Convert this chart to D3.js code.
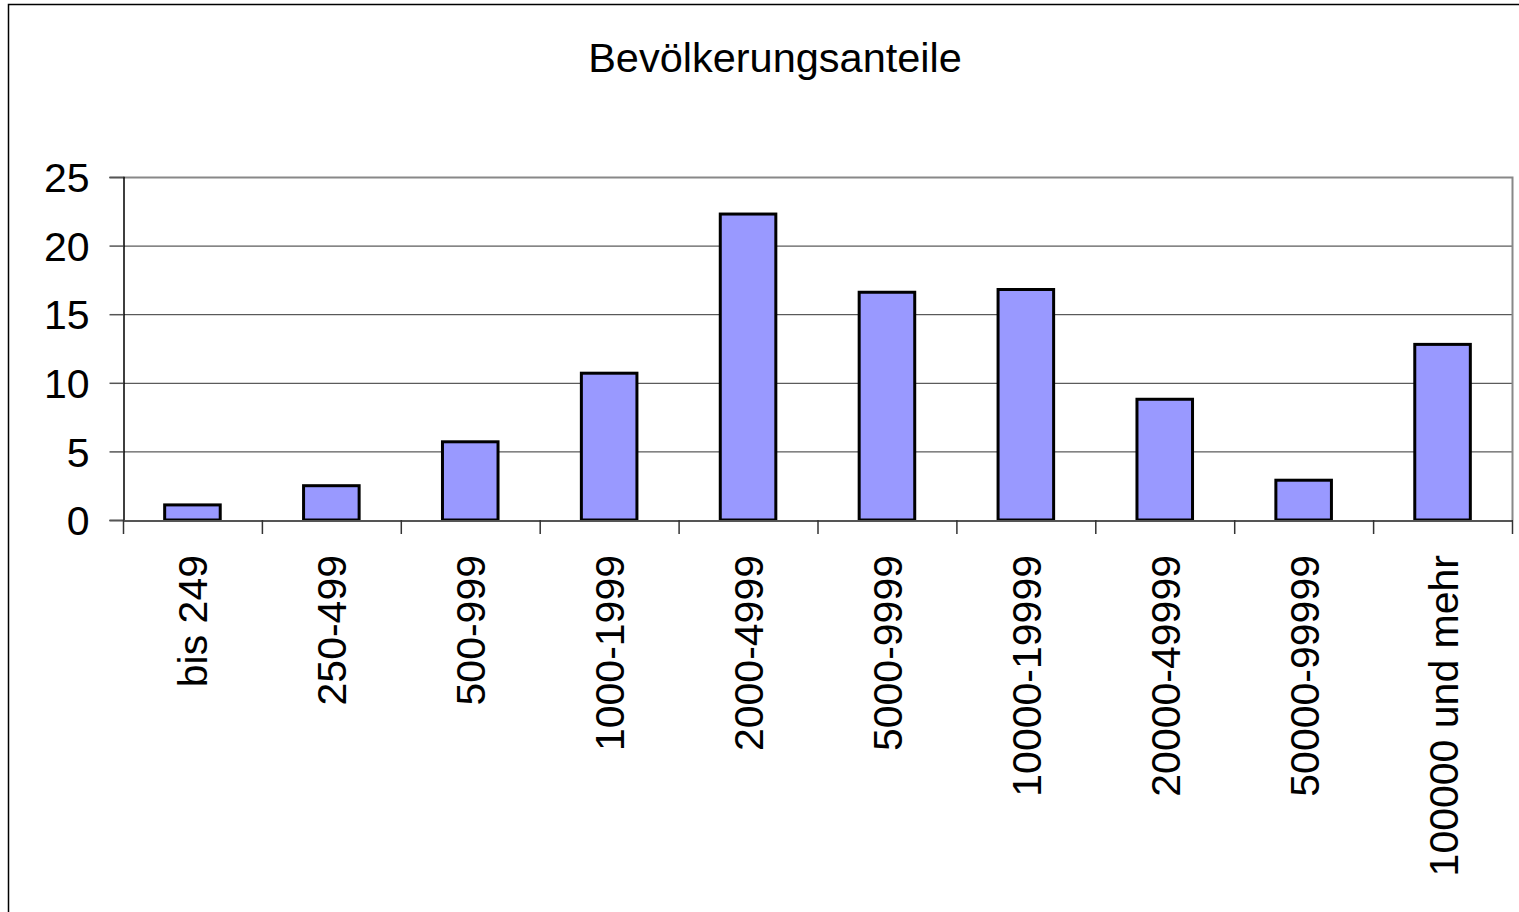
<!DOCTYPE html>
<meta charset="utf-8">
<title>Bevölkerungsanteile</title>
<style>
  body { margin: 0; background: #fff; }
  svg text { font-family: "Liberation Sans", Arial, sans-serif; fill: #000; }
</style>
<div id="viz"></div>
<script src="https://cdnjs.cloudflare.com/ajax/libs/d3/7.8.5/d3.min.js"></script>
<script>

var categories = ["bis 249", "250-499", "500-999", "1000-1999", "2000-4999",
                  "5000-9999", "10000-19999", "20000-49999", "50000-99999", "100000 und mehr"];
var values = [1.1, 2.5, 5.7, 10.7, 22.3, 16.6, 16.8, 8.8, 2.9, 12.8];
var yTicks = [0, 5, 10, 15, 20, 25];

var width = 1519;
var height = 912;
var plotL = 123, plotR = 1512, plotT = 177, plotB = 520;

var svg = d3.select("#viz")
  .append("svg")
  .attr("width", width)
  .attr("height", height);

// outer chart frame
svg.append("rect")
  .attr("x", 8.5).attr("y", 4.5)
  .attr("width", 1540).attr("height", 940)
  .attr("fill", "none")
  .attr("stroke", "#000")
  .attr("stroke-width", 1.5);

var x = d3.scaleBand()
  .domain(categories)
  .range([plotL, plotR])
  .paddingInner(0.6)
  .paddingOuter(0.3);

var y = d3.scaleLinear()
  .domain([0, 25])
  .range([plotB, plotT]);

// gridlines
svg.append("g")
  .selectAll("line")
  .data(yTicks.filter(function(d) { return d > 0 && d < 25; }))
  .enter().append("line")
  .attr("x1", plotL).attr("x2", plotR)
  .attr("y1", function(d) { return y(d) + 0.5; })
  .attr("y2", function(d) { return y(d) + 0.5; })
  .attr("stroke", "#333")
  .attr("stroke-width", 1);

// plot border top / right
svg.append("path")
  .attr("d", "M" + plotL + "," + (plotT + 0.5) + "H" + (plotR + 0.5) + "V" + plotB)
  .attr("fill", "none")
  .attr("stroke", "#888")
  .attr("stroke-width", 2);

// bars
svg.append("g")
  .selectAll("rect")
  .data(values)
  .enter().append("rect")
  .attr("x", function(d, i) { return x(categories[i]); })
  .attr("y", function(d) { return y(d); })
  .attr("width", x.bandwidth())
  .attr("height", function(d) { return y(0) - y(d); })
  .attr("fill", "#9999ff")
  .attr("stroke", "#000")
  .attr("stroke-width", 3);

// y axis
var yAxis = d3.axisLeft(y)
  .tickValues(yTicks)
  .tickSize(14)
  .tickPadding(20);
var gy = svg.append("g")
  .attr("transform", "translate(" + (plotL + 0.5) + ",0)")
  .call(yAxis);
gy.select(".domain").attr("stroke", "#000").attr("stroke-width", 1.5);
gy.selectAll(".tick line").attr("stroke", "#555").attr("stroke-width", 1.5);
gy.selectAll(".tick text")
  .style("font-size", "41px")
  .attr("dy", "0.36em");

// x axis
var xAxis = d3.axisBottom(x).tickSize(0).tickFormat("");
var gx = svg.append("g")
  .attr("transform", "translate(0," + (plotB + 0.5) + ")")
  .call(xAxis);
gx.select(".domain").attr("stroke", "#555").attr("stroke-width", 2);

// category boundary ticks
var bounds = d3.range(categories.length + 1).map(function(i) {
  return plotL + (plotR - plotL) * i / categories.length;
});
svg.append("g")
  .selectAll("line")
  .data(bounds)
  .enter().append("line")
  .attr("x1", function(d) { return d + 0.5; })
  .attr("x2", function(d) { return d + 0.5; })
  .attr("y1", plotB)
  .attr("y2", plotB + 14)
  .attr("stroke", "#333")
  .attr("stroke-width", 1.5);

// rotated category labels
svg.append("g")
  .selectAll("text")
  .data(categories)
  .enter().append("text")
  .attr("transform", function(d) {
    return "translate(" + (x(d) + x.bandwidth() / 2 + 15) + "," + 555 + ") rotate(-90)";
  })
  .attr("text-anchor", "end")
  .style("font-size", "41px")
  .text(function(d) { return d; });

// title
svg.append("text")
  .attr("x", 775)
  .attr("y", 72)
  .attr("text-anchor", "middle")
  .style("font-size", "41.5px")
  .text("Bevölkerungsanteile");

</script>
